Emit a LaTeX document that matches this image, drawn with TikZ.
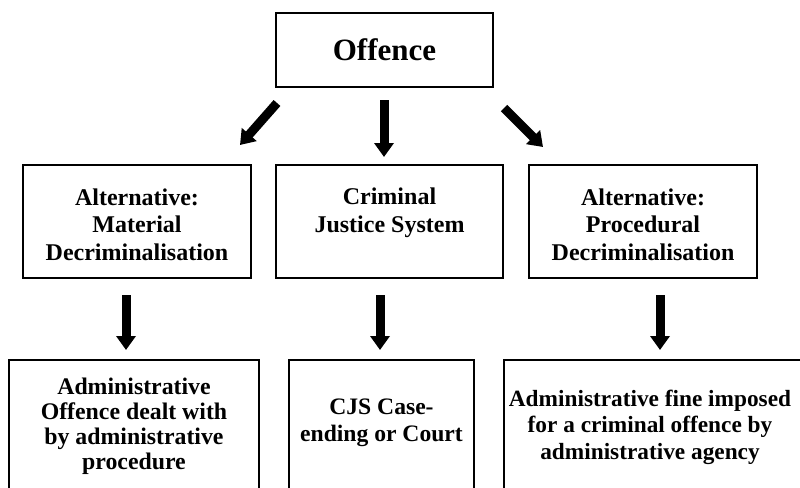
\documentclass[tikz,border=0pt]{standalone}
\usepackage{fontspec}
\setmainfont{Liberation Serif}
\usetikzlibrary{arrows.meta}
\begin{document}
\begin{tikzpicture}[x=1pt,y=-1pt,
  box/.style={draw=black, line width=1.8pt, inner sep=0pt, fill=white},
  boxtext/.style={align=center, inner sep=0pt, font=\bfseries\fontsize{24}{27.5}\selectfont},
  blockarrow/.style={line width=9pt, -{Triangle[width=19pt,length=14pt]}}
]
\useasboundingbox (0,0) rectangle (800,487);
\clip (0,0) rectangle (800,487);

% top node
\node[box, minimum width=217pt, minimum height=74pt,
      font=\bfseries\fontsize{31}{36}\selectfont] (offence) at (384.5,50) {Offence};

% second row
\node[box, minimum width=228pt, minimum height=113pt] (mat) at (137,221.5) {};
\node[box, minimum width=227pt, minimum height=113pt] (cjs) at (389.5,221.5) {};
\node[box, minimum width=228pt, minimum height=113pt] (proc) at (643,221.5) {};
\node[boxtext] (matT) at (137,224.5) {Alternative:\\Material\\Decriminalisation};
\node[boxtext] (cjsT) at (389.5,213) {Criminal\\Justice System};
\node[boxtext] (procT) at (643,224.5) {Alternative:\\Procedural\\Decriminalisation};

% third row (boxes run past the lower edge)
\node[box, minimum width=250pt, minimum height=160pt] (adm) at (134,440) {};
\node[box, minimum width=185pt, minimum height=160pt] (court) at (381.5,440) {};
\node[box, minimum width=304pt, minimum height=160pt] (fine) at (656,440) {};
\node[boxtext, font=\bfseries\fontsize{23.8}{25}\selectfont] (admT) at (134,426)
  {Administrative\\Offence dealt with\\by administrative\\procedure};
\node[boxtext, font=\bfseries\fontsize{23.6}{27}\selectfont] (courtT) at (381.5,423)
  {CJS Case-\\ending or Court};
\node[boxtext, font=\bfseries\fontsize{23.3}{26.5}\selectfont] (fineT) at (650,427)
  {Administrative fine imposed\\for a criminal offence by\\administrative agency};

% arrow end points
\coordinate (a1s) at (277,103); \coordinate (a1e) at (240,145);
\coordinate (a2s) at (384,100); \coordinate (a2e) at (384,157);
\coordinate (a3s) at (504,108); \coordinate (a3e) at (543,147);
\coordinate (r1s) at (126,295); \coordinate (r1e) at (126,350);
\coordinate (r2s) at (380,295); \coordinate (r2e) at (380,350);
\coordinate (r3s) at (660,295); \coordinate (r3e) at (660,350);

\draw[blockarrow] (a1s) -- (a1e);
\draw[blockarrow] (a2s) -- (a2e);
\draw[blockarrow] (a3s) -- (a3e);
\draw[blockarrow] (r1s) -- (r1e);
\draw[blockarrow] (r2s) -- (r2e);
\draw[blockarrow] (r3s) -- (r3e);
\end{tikzpicture}
\end{document}
